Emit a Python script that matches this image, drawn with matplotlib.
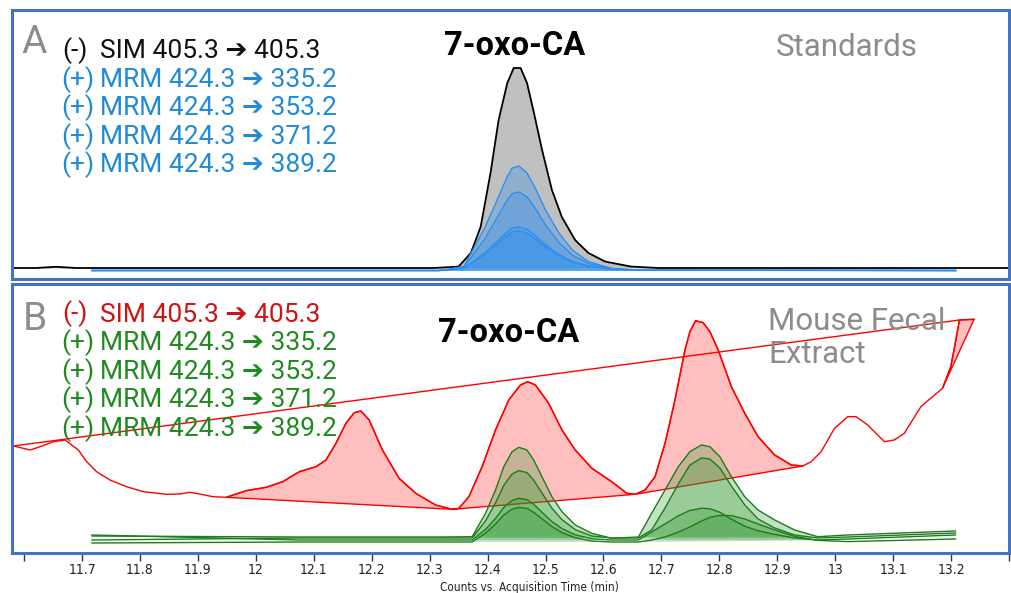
import numpy as np
import matplotlib.pyplot as plt
from matplotlib.ticker import FixedLocator, FixedFormatter

# ---------------- panel A : standards (relative counts) ----------------
sim_a_t = [11.579, 11.62, 11.655, 11.69, 12.307, 12.350, 12.371, 12.388, 12.405, 12.419,
           12.434, 12.445, 12.457, 12.468, 12.480, 12.494, 12.511, 12.528, 12.551, 12.574,
           12.603, 12.648, 12.695, 13.30]
sim_a_v = [0, 0, 0.6, 0, 0, 0.7, 7.5, 20.6, 47.5, 74,
           92.5, 100, 100, 92.5, 77.5, 59, 39, 25.6, 14, 7.5,
           3.2, 0.7, 0, 0]

mrm_a_t = [11.717, 12.316, 12.359, 12.396, 12.419, 12.434, 12.442, 12.454, 12.468, 12.482,
           12.500, 12.523, 12.546, 12.574, 12.614, 12.660, 13.208]
mrm_a_335 = [-1.25, -1.25, 0.7, 20.6, 35.7, 45.7, 49.9, 51, 47.5, 40, 29, 17.5, 9, 3.2, -0.2, -1, -1.25]
mrm_a_353 = [-1.25, -1.25, 0.3, 15, 26.5, 34, 37, 38, 35.5, 30, 21.5, 12.8, 6.5, 2.2, -0.3, -1, -1.25]
mrm_a_371 = [-1.25, -1.25, -0.2, 7.8, 14, 18, 20, 20.5, 19.3, 16.3, 11.6, 6.8, 3.3, 1, -0.6, -1.1, -1.25]
mrm_a_389 = [-1.25, -1.25, -0.3, 7, 12.6, 16.2, 18, 18.5, 17.4, 14.7, 10.5, 6.2, 3, 0.8, -0.6, -1.1, -1.25]
mrm_a_base = -1.25

# ---------------- panel B : mouse fecal extract ----------------
sim_b_t = [11.5816, 11.6103, 11.6275, 11.6504, 11.6706, 11.6935, 11.7079, 11.7251, 11.7480, 11.7768,
           11.8053, 11.8456, 11.8685, 11.8857, 11.9029, 11.9258, 11.9489, 11.9833, 12.0177, 12.0463,
           12.0751, 12.1038, 12.1210, 12.1382, 12.1554, 12.1697, 12.1812, 12.1955, 12.2184, 12.2472,
           12.2759, 12.3103, 12.3389, 12.3504, 12.3677, 12.3905, 12.4136, 12.4365, 12.4566, 12.4692,
           12.4825, 12.5054, 12.5283, 12.5513, 12.5799, 12.6143, 12.6401, 12.6546, 12.6718, 12.6890,
           12.7062, 12.7234, 12.7406, 12.7492, 12.7589, 12.7721, 12.7837, 12.7980, 12.8208, 12.8439,
           12.8668, 12.8955, 12.9241, 12.9442, 12.9585, 12.9757, 12.9988, 13.0217, 13.0360, 13.0561,
           13.0849, 13.1021, 13.1193, 13.1479, 13.1680, 13.1852, 13.1995, 13.2067, 13.2145, 13.2398]
sim_b_v = [51, 49, 50.65, 53.15, 54, 49, 43.15, 38.15, 34, 30.65,
           28.15, 26.85, 27, 27.85, 27, 25.65, 25.35, 28.65, 30.35, 33.15,
           38.15, 40.65, 44, 52.35, 62.35, 67.65, 68.5, 64, 49, 34.85,
           27.35, 21.5, 19.35, 19.85, 25.65, 40.65, 59, 74, 81.5, 83.15,
           81.5, 72.35, 59, 49, 39.85, 33.15, 27.35, 26.85, 29, 35.65,
           52.35, 74, 99, 108.15, 113.65, 112.65, 108.15, 99, 80.65, 67.35,
           55.65, 46.5, 41.5, 41, 43.15, 48.15, 59.85, 65.65, 65.65, 61.5,
           53.15, 54, 57.35, 70.65, 75.65, 79.85, 90.65, 101.5, 114, 114.35]
sim_b_peaks = [(11.9489, 12.3389), (12.3389, 12.6546), (12.6546, 12.9442), (13.1852, 13.2398)]
wide_base_t = [11.5816, 13.2145]
wide_base_v = [51, 114]

mrm_b_t = [11.717, 12.075, 12.316, 12.3733, 12.3964, 12.4136, 12.4279, 12.4422, 12.4537, 12.4680,
           12.4795, 12.4938, 12.5110, 12.5283, 12.5513, 12.5799, 12.6143, 12.6603, 12.6831, 12.7062,
           12.7291, 12.7492, 12.7692, 12.7837, 12.8009, 12.8208, 12.8439, 12.8668, 12.8955, 12.9300,
           12.9700, 13.0217, 13.2076]
mrm_b_335 = [6, 5.5, 5.5, 5.65, 17.35, 29, 40.65, 48.15, 50.35, 49, 44, 35.65, 25.65, 18.15, 11.5, 7.35, 4.85,
             5.5, 17.35, 29, 40.65, 48.15, 51.5, 50.65, 45.65, 35.65, 25.65, 19, 14, 9, 5.65, 6.5, 8.5]
mrm_b_353 = [4, 5, 5, 5, 13.6, 22.5, 31.3, 37, 38.7, 37.7, 33.9, 27.5, 19.9, 14.2, 9.2, 6, 5,
             5, 9, 20, 32, 41.5, 45, 44.5, 40, 31, 21.5, 14.5, 10, 6.5, 5, 5.5, 7.5]
mrm_b_371 = [6.5, 4, 4, 4, 9.3, 14.8, 20.3, 23.8, 24.85, 24.2, 21.9, 17.9, 13.2, 9.7, 6.6, 4.6, 4,
             4, 8, 12, 16.1, 18.8, 19.9, 19.6, 17.9, 14.4, 10.9, 8.6, 6.8, 5, 4, 4.5, 6.5]
mrm_b_389 = [2.5, 3, 3, 3, 7.4, 12, 16.5, 19.4, 20.3, 19.8, 17.8, 14.6, 10.7, 7.7, 5.1, 3.5, 3,
             3, 4, 5.5, 8, 10.5, 13.5, 15.3, 16.3, 16.2, 14.5, 12, 9, 5.8, 3.8, 3.2, 4.5]
mrm_b_peaks = [(12.3733, 12.6143), (12.6603, 12.9700)]

products = ["335.2", "353.2", "371.2", "389.2"]
tick_vals = [11.6, 11.7, 11.8, 11.9, 12.0, 12.1, 12.2, 12.3, 12.4, 12.5, 12.6, 12.7, 12.8, 12.9, 13.0, 13.1, 13.2, 13.3]
tick_text = ["", "11.7", "11.8", "11.9", "12", "12.1", "12.2", "12.3", "12.4", "12.5", "12.6", "12.7",
             "12.8", "12.9", "13", "13.1", "13.2", ""]

W, H = 1012, 593
frame = '#4472c4'
gray_txt = '#8c8c8c'
blue = '#1f8ad6'
red = '#ff0000'
green = '#1c7d1c'
fam = ['Roboto', 'DejaVu Sans']

fig = plt.figure(figsize=(W / 100, H / 100), dpi=100)
axA = fig.add_axes([12 / W, 1 - 279 / H, 997 / W, 269 / H])
axB = fig.add_axes([12 / W, 1 - 553 / H, 997 / W, 269 / H])

def ftext(x, y, s, **kw):
    fig.text(x / W, 1 - y / H, s, **kw)

# ----- panel A
axA.fill_between(sim_a_t, sim_a_v, 0, color='#c0c0c0', lw=0, zorder=1)
axA.plot(sim_a_t, sim_a_v, color='black', lw=1.3, zorder=2)
for v in [mrm_a_335, mrm_a_353, mrm_a_371, mrm_a_389]:
    axA.fill_between(mrm_a_t, v, mrm_a_base, color='#2f8ff0', alpha=0.33, lw=0, zorder=3)
    axA.plot(mrm_a_t, v, color='#2a8ff2', lw=1.0, zorder=4)
axA.set_ylim(-5.5, 129)

# ----- panel B
sb_t = np.array(sim_b_t)
sb_v = np.array(sim_b_v)
for a, b in sim_b_peaks:
    m = (sb_t >= a) & (sb_t <= b)
    axB.fill(sb_t[m], sb_v[m], facecolor='#ffbfbf', edgecolor=red, lw=1.0, zorder=1)
axB.plot(sb_t, sb_v, color=red, lw=1.0, zorder=2)
axB.plot(wide_base_t, wide_base_v, color=red, lw=1.0, zorder=2)

mb_t = np.array(mrm_b_t)
for v in [mrm_b_335, mrm_b_353, mrm_b_371, mrm_b_389]:
    v = np.array(v)
    for a, b in mrm_b_peaks:
        m = (mb_t >= a) & (mb_t <= b)
        axB.fill(mb_t[m], v[m], facecolor='#2e962e', alpha=0.28, lw=0, zorder=3)
    axB.plot(mb_t, v, color=green, lw=1.0, zorder=4)
axB.set_ylim(-2.5, 132)

for ax in (axA, axB):
    ax.set_xlim(11.579, 13.3)
    ax.set_yticks([])
    for s in ax.spines.values():
        s.set_color(frame)
        s.set_linewidth(2.2)
axA.set_xticks([])

axB.xaxis.set_major_locator(FixedLocator(tick_vals))
axB.xaxis.set_major_formatter(FixedFormatter(tick_text))
axB.tick_params(axis='x', direction='out', length=6, width=1, color='#333333', pad=1,
                labelsize=10, labelcolor='#222222')
for lab in axB.get_xticklabels():
    lab.set_fontfamily('DejaVu Sans')
    lab.set_fontstretch('condensed')

ftext(529, 587, "Counts vs. Acquisition Time (min)", ha='center', va='center',
      fontsize=8.5, family='DejaVu Sans', stretch='condensed', color='#222222')

# ----- texts
ftext(21, 53, "A", fontsize=28, family=fam, color=gray_txt, va='baseline')
ftext(23, 330, "B", fontsize=28, family=fam, color=gray_txt, va='baseline')
ftext(515, 55, "7-oxo-CA", fontsize=23.5, family=fam, fontweight='bold', color='black',
      ha='center', va='baseline')
ftext(509, 342, "7-oxo-CA", fontsize=23.5, family=fam, fontweight='bold', color='black',
      ha='center', va='baseline')
ftext(776, 56, "Standards", fontsize=22.5, family=fam, color=gray_txt, va='baseline')
ftext(768, 330, "Mouse Fecal", fontsize=22.5, family=fam, color=gray_txt, va='baseline')
ftext(768, 363, "Extract", fontsize=22.5, family=fam, color=gray_txt, va='baseline')

def legend_block(y0, sim_color, mrm_color):
    ys = [y0 + 28.6 * i for i in range(5)]
    ftext(62, ys[0], "(-)", fontsize=19, family=fam, color=sim_color, va='baseline')
    ftext(100, ys[0], "SIM 405.3 \u2794 405.3", fontsize=19, family=fam, color=sim_color, va='baseline')
    for y, p in zip(ys[1:], products):
        ftext(61, y, "(+)", fontsize=19, family=fam, color=mrm_color, va='baseline')
        ftext(100, y, "MRM 424.3 \u2794 " + p, fontsize=19, family=fam, color=mrm_color, va='baseline')

legend_block(58, '#111111', blue)
legend_block(321.5, '#cc1414', '#1f8a1f')

fig.savefig('out.png', dpi=100)
